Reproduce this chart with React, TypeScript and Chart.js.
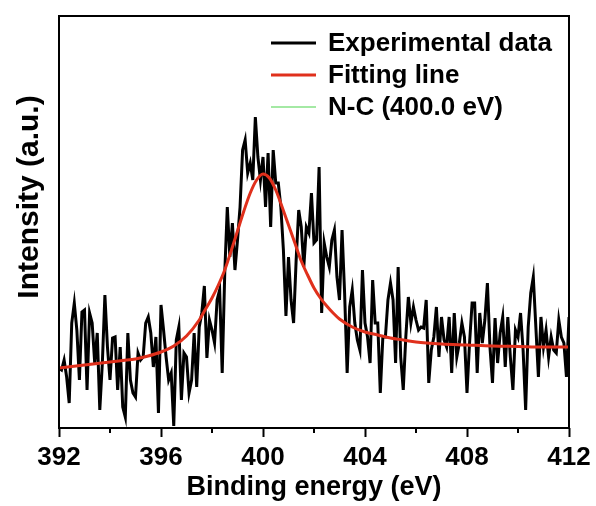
import React, { useEffect, useRef } from 'react';
import { Chart, registerables } from 'chart.js';

Chart.register(...registerables);

// Experimental spectrum: binding energy grid start / step (eV) and intensity (a.u.)
const EXP_START = 392;
const EXP_STEP = 0.1;
const expIntensity = [
  60, 58, 68, 51, 25, 105, 125, 98, 48, 116, 118, 38, 115, 105, 65, 95, 18, 65, 133, 81, 48, 90, 91, 38, 81, 21, 11, 95, 48, 35,
  31, 75, 68, 71, 105, 111, 95, 61, 91, 15,
  123, 98, 71, 48, 55, 2, 88, 101, 28, 75,
  71, 35, 48, 95, 41, 101, 115, 142, 70, 108,
  98, 85, 128, 138, 55, 155, 221, 171, 205, 158,
  188, 221, 278, 288, 255, 265, 248, 311, 271, 248,
  271, 221, 275, 201, 278, 245, 245, 221, 178, 112,
  171, 128, 105, 168, 218, 201, 161, 201, 195, 235,
  185, 188, 261, 115, 185, 171, 161, 188, 198, 151,
  128, 198, 135, 55, 121, 138, 105, 88, 78, 158,
  105, 91, 65, 148, 105, 105, 35, 91, 91, 128,
  145, 128, 65, 161, 71, 38, 91, 131, 105, 121,
  108, 98, 101, 100, 128, 45, 78, 91, 121, 71,
  111, 88, 81, 111, 55, 115, 71, 85, 105, 91,
  35, 85, 125, 125, 55, 115, 85, 108, 145, 81,
  45, 110, 65, 95, 111, 61, 111, 71, 38, 98,
  91, 115, 78, 18, 101, 135, 151, 101, 51, 111,
  81, 98, 71, 91, 78, 75, 108, 91, 85, 51,
  111,
];

// Fitted envelope (and the single N-C component, which coincides with it)
const fitEnergy = [
  392, 392.5, 393, 393.5, 394, 394.5, 395, 395.5, 396, 396.5, 397, 397.5, 397.75,
  398, 398.25, 398.5, 398.75, 399, 399.25, 399.5, 399.75, 400, 400.25, 400.5, 400.75,
  401, 401.25, 401.5, 401.75, 402, 402.25, 402.5, 402.75, 403, 403.5, 404, 404.5,
  405, 405.5, 406, 407, 408, 409, 410, 411, 412,
];
const fitIntensity = [
  60, 61.5, 63, 64.5, 66, 67.5, 69, 72, 76, 82, 92, 108, 119,
  130, 143, 158, 177, 197, 217, 235, 248, 254, 250, 238, 221,
  203, 185, 167, 153, 140, 130, 122, 115, 109, 101, 96, 93,
  90, 88, 86, 84, 83, 82, 81.5, 81, 81,
];

const majorTicks = [392, 396, 400, 404, 408, 412];
const minorTicks = [394, 398, 402, 406, 410];
const seriesLabels = ['Experimental data', 'Fitting line', 'N-C (400.0 eV)'];
const xTitle = 'Binding energy (eV)';
const yTitle = 'Intensity (a.u.)';

const FONT = "'Liberation Sans', Arial, sans-serif";

export default function App() {
  const ref = useRef<HTMLCanvasElement | null>(null);

  useEffect(() => {
    if (!ref.current) return;
    const expData = expIntensity.map((v, i) => ({ x: EXP_START + i * EXP_STEP, y: v }));
    const fitData = fitEnergy.map((e, i) => ({ x: e, y: fitIntensity[i] }));

    const framePlugin = {
      id: 'frameLegend',
      afterDraw(chart: any) {
        const { ctx, chartArea } = chart;
        const { left, top, right, bottom } = chartArea;
        const xs = chart.scales.x;
        ctx.save();
        ctx.strokeStyle = '#000';
        ctx.lineWidth = 2;
        ctx.strokeRect(left, top, right - left, bottom - top);
        // minor ticks
        minorTicks.forEach((v) => {
          const px = xs.getPixelForValue(v);
          ctx.beginPath();
          ctx.moveTo(px, bottom);
          ctx.lineTo(px, bottom + 5);
          ctx.stroke();
        });
        // legend inside plot
        const ds = chart.data.datasets;
        const lx0 = right - 298;
        const lx1 = right - 253;
        const tx = right - 241;
        ds.forEach((d: any, i: number) => {
          const y = top + 27 + i * 32;
          ctx.beginPath();
          ctx.strokeStyle = d.borderColor;
          ctx.lineWidth = i === 2 ? 1.5 : 3;
          ctx.moveTo(lx0, y);
          ctx.lineTo(lx1, y);
          ctx.stroke();
          ctx.fillStyle = '#000';
          ctx.font = `bold 26px ${FONT}`;
          ctx.textBaseline = 'middle';
          ctx.textAlign = 'left';
          ctx.fillText(d.label, tx, y + 1);
        });
        // y-axis title
        ctx.translate(30, 197);
        ctx.rotate(-Math.PI / 2);
        ctx.fillStyle = '#000';
        ctx.font = `bold 30px ${FONT}`;
        ctx.textAlign = 'center';
        ctx.textBaseline = 'middle';
        ctx.fillText(yTitle, 0, 0);
        ctx.restore();
      },
    };

    const chart = new Chart(ref.current, {
      type: 'scatter',
      data: {
        datasets: [
          {
            label: seriesLabels[0],
            data: expData,
            showLine: true,
            borderColor: '#000000',
            backgroundColor: '#000000',
            borderWidth: 3,
            pointRadius: 0,
            tension: 0,
            order: 2,
          },
          {
            label: seriesLabels[1],
            data: fitData,
            showLine: true,
            borderColor: '#e0301c',
            backgroundColor: '#e0301c',
            borderWidth: 3,
            pointRadius: 0,
            cubicInterpolationMode: 'monotone',
            order: 0,
          },
          {
            label: seriesLabels[2],
            data: fitData,
            showLine: true,
            borderColor: '#86e286',
            backgroundColor: '#86e286',
            borderWidth: 1,
            pointRadius: 0,
            cubicInterpolationMode: 'monotone',
            order: 1,
          },
        ],
      } as any,
      options: {
        animation: false,
        responsive: true,
        maintainAspectRatio: false,
        layout: { padding: { left: 0, right: 27, top: 16, bottom: 0 } },
        plugins: { legend: { display: false }, tooltip: { enabled: false } },
        scales: {
          x: {
            type: 'linear',
            min: 392,
            max: 412,
            afterBuildTicks: (scale: any) => {
              scale.ticks = majorTicks.map((v) => ({ value: v }));
            },
            ticks: {
              font: { family: FONT, size: 26, weight: 'bold' },
              color: '#000',
              padding: 5,
              maxRotation: 0,
              autoSkip: false,
            },
            grid: {
              drawOnChartArea: false,
              drawTicks: true,
              tickLength: 9,
              tickWidth: 2,
              tickColor: '#000',
            },
            border: { display: false },
            title: {
              display: true,
              text: xTitle,
              color: '#000',
              font: { family: FONT, size: 27, weight: 'bold' },
              padding: { top: 0, bottom: 2 },
            },
            afterFit: (s: any) => {
              s.height = 78;
            },
          },
          y: {
            min: 0,
            max: 412,
            ticks: { display: false },
            grid: { display: false },
            border: { display: false },
            afterFit: (s: any) => {
              s.width = 59;
            },
          },
        },
      } as any,
      plugins: [framePlugin],
    });
    return () => chart.destroy();
  }, []);

  return (
    <div style={{ position: 'fixed', left: 0, top: 0, width: 596, height: 506 }}>
      <canvas ref={ref} />
    </div>
  );
}
